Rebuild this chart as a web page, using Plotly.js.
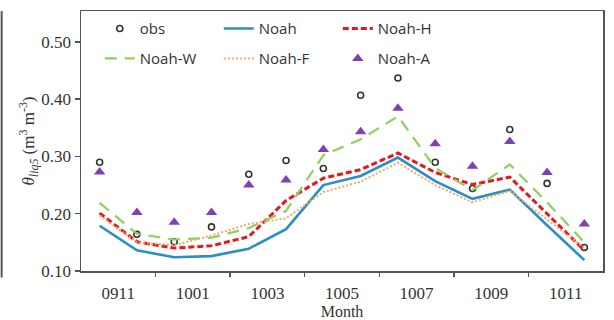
<!DOCTYPE html>
<html>
<head>
<meta charset="utf-8">
<script src="https://cdn.plot.ly/plotly-3.0.1.min.js"></script>
<style>html,body{margin:0;padding:0;background:#fff;}#chart{width:614px;height:320px;}</style>
</head>
<body>
<div id="chart"></div>
<script>
// Months (two per labelled interval)
const months = ["0911","0912","1001","1002","1003","1004","1005","1006","1007","1008","1009","1010","1011","1012"];
const tickLabels = ["0911","1001","1003","1005","1007","1009","1011"];
const yTicks = [0.10, 0.20, 0.30, 0.40, 0.50];

const obs   = [0.290, 0.164, 0.151, 0.177, 0.269, 0.293, 0.279, 0.407, 0.437, 0.290, 0.244, 0.347, 0.253, 0.141];
const noah  = [0.179, 0.136, 0.124, 0.126, 0.139, 0.173, 0.250, 0.266, 0.298, 0.257, 0.226, 0.242, 0.180, 0.119];
const noahH = [0.201, 0.151, 0.140, 0.144, 0.160, 0.223, 0.262, 0.277, 0.306, 0.272, 0.251, 0.264, 0.200, 0.136];
const noahW = [0.219, 0.165, 0.155, 0.158, 0.175, 0.205, 0.302, 0.330, 0.370, 0.280, 0.241, 0.286, 0.220, 0.150];
const noahF = [0.197, 0.150, 0.145, 0.162, 0.182, 0.192, 0.238, 0.256, 0.289, 0.250, 0.220, 0.240, 0.190, 0.140];
const noahA = [0.273, 0.202, 0.185, 0.202, 0.250, 0.259, 0.312, 0.343, 0.384, 0.322, 0.283, 0.326, 0.272, 0.182];

const xs = months.map((m, i) => i);
const labelPos = tickLabels.map((t, k) => 2 * k + 0.5);
const boundaryPos = tickLabels.slice(1).map((t, k) => 2 * k + 1.5);

const sans = "Open Sans, Noto Sans, sans-serif";
const serif = "Liberation Serif, Times New Roman, serif";

const traces = [
  {x: xs, y: obs, name: "obs", mode: "markers", type: "scatter", legend: "legend",
   marker: {symbol: "circle-open", size: 6, color: "#333", line: {width: 1.6, color: "#333"}}},
  {x: xs, y: noah, name: "Noah", mode: "lines", type: "scatter", legend: "legend",
   line: {color: "#2b8fc6", width: 2.6}},
  {x: xs, y: noahH, name: "Noah-H", mode: "lines", type: "scatter", legend: "legend",
   line: {color: "#e8171c", width: 3, dash: "6px,3px"}},
  {x: xs, y: noahW, name: "Noah-W", mode: "lines", type: "scatter", legend: "legend2",
   line: {color: "#8fd05a", width: 2.2, dash: "12px,8px"}},
  {x: xs, y: noahF, name: "Noah-F", mode: "lines", type: "scatter", legend: "legend2",
   line: {color: "#f3a866", width: 2, dash: "2px,2px"}},
  {x: xs, y: noahA, name: "Noah-A", mode: "markers", type: "scatter", legend: "legend2",
   marker: {symbol: "triangle-up", size: 10, color: "#8040b0"}}
];

const legendCommon = {
  orientation: "h", xanchor: "left", yanchor: "top", x: 0.036,
  entrywidth: 74, entrywidthmode: "pixels",
  bgcolor: "rgba(0,0,0,0)", borderwidth: 0,
  font: {family: sans, size: 15, color: "#333"}
};

const layout = {
  width: 614, height: 320,
  margin: {l: 81, r: 11, t: 11, b: 49},
  paper_bgcolor: "#fff", plot_bgcolor: "#fff",
  font: {family: serif, size: 17, color: "#333"},
  showlegend: true,
  legend: Object.assign({}, legendCommon, {y: 0.995}),
  legend2: Object.assign({}, legendCommon, {y: 0.88}),
  xaxis: {
    range: [-0.5, 13.5], tickmode: "array", tickvals: labelPos, ticktext: tickLabels,
    ticks: "", showgrid: false, zeroline: false, ticklabelstandoff: 6,
    showline: true, linecolor: "#555", linewidth: 1.5, mirror: true,
    minor: {tickmode: "array", tickvals: boundaryPos, ticks: "outside", ticklen: 4, tickwidth: 1.5, tickcolor: "#555", showgrid: false},
    tickfont: {family: serif, size: 17, color: "#333"},
    title: {text: "Month", font: {family: serif, size: 16, color: "#333"}, standoff: 2}
  },
  yaxis: {
    range: [0.10, 0.554], tickmode: "array", tickvals: yTicks, tickformat: ".2f",
    ticks: "outside", ticklen: 5, tickwidth: 1.5, tickcolor: "#555",
    showgrid: false, zeroline: false,
    showline: true, linecolor: "#555", linewidth: 1.5, mirror: true,
    tickfont: {family: serif, size: 17, color: "#333"},
    title: {text: "<i>θ<sub>liq5</sub></i> (m<sup>3</sup> m<sup>-3</sup>)", font: {family: serif, size: 17, color: "#333"}, standoff: 2}
  },
  shapes: [
    {type: "line", xref: "paper", yref: "paper", x0: -0.152, x1: -0.152, y0: 1.0, y1: -0.025,
     line: {color: "#555", width: 2}}
  ]
};

Plotly.newPlot("chart", traces, layout, {displayModeBar: false, staticPlot: true});
</script>
</body>
</html>
